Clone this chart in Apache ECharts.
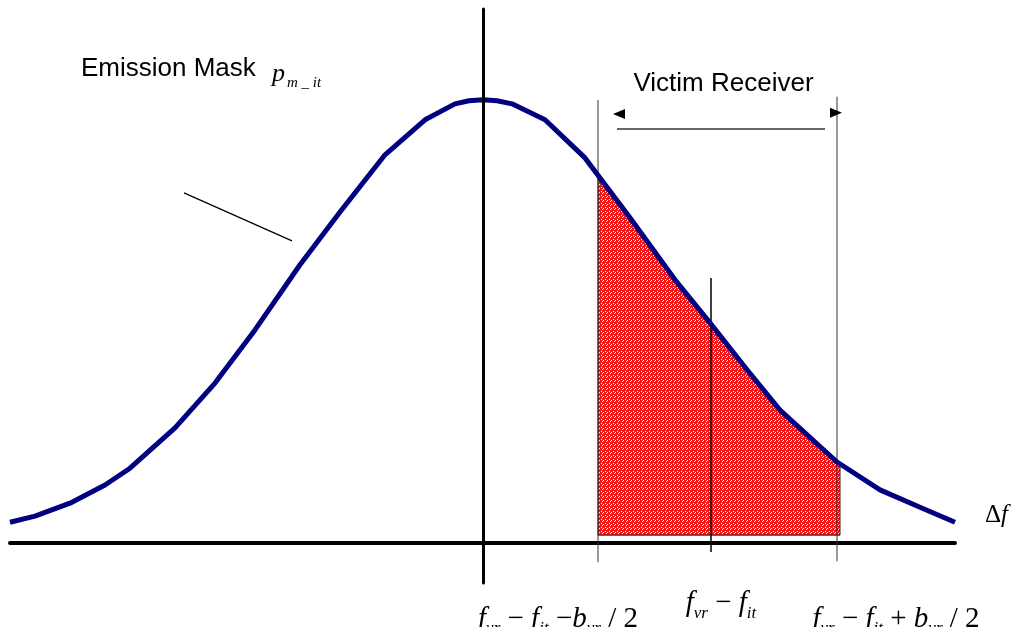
<!DOCTYPE html>
<html>
<head>
<meta charset="utf-8">
<title>Emission mask and victim receiver</title>
<script src="https://cdn.jsdelivr.net/npm/echarts@6/dist/echarts.min.js"></script>
<style>
  html, body { margin: 0; padding: 0; background: #fff; }
  #chart { width: 1012px; height: 627px; }
</style>
</head>
<body>
<div id="chart"></div>
<script>
// Interferer emission mask: relative level against frequency offset Δf
const maskOffsets = [-4.73, -4.48, -4.13, -3.78, -3.53, -3.08, -2.68, -2.28, -1.83, -1.43, -0.98, -0.58, -0.28, -0.14, 0,
                     0.14, 0.29, 0.62, 1.02, 1.47, 1.92, 2.27, 2.64, 2.97, 3.54, 3.97, 4.37, 4.72];
const maskLevels  = [0.047, 0.061, 0.090, 0.131, 0.169, 0.260, 0.361, 0.481, 0.628, 0.747, 0.876, 0.955, 0.991, 0.998, 1.0,
                     0.998, 0.991, 0.955, 0.869, 0.734, 0.594, 0.497, 0.391, 0.300, 0.183, 0.120, 0.081, 0.047];

// Victim receiver band: lower edge, centre and upper edge on the Δf axis
const rxLow = 1.15;
const rxCentre = 2.28;
const rxHigh = 3.54;

// Part of the mask falling inside the receiver band (shaded)
const overlapOffsets = [1.15, 1.47, 1.92, 2.27, 2.64, 2.97, 3.57];
const overlapLevels  = [0.822, 0.734, 0.594, 0.497, 0.391, 0.300, 0.176];
const overlapFloor = 0.018;

const serif = "'Liberation Serif', 'Times New Roman', serif";
const sans = "'Liberation Sans', Arial, sans-serif";

// red speckled tile for the shaded area
const tile = document.createElement('canvas');
tile.width = 4; tile.height = 4;
(function () {
  const g = tile.getContext('2d');
  g.fillStyle = '#f01818';
  g.fillRect(0, 0, 4, 4);
  g.fillStyle = '#ffffff';
  [[3, 0], [2, 1], [1, 3]].forEach(function (p) { g.fillRect(p[0], p[1], 1, 1); });
})();

function segment(points, color, width, z) {
  return {
    type: 'line', data: points, symbol: 'none', clip: false, silent: true, z: z || 3,
    lineStyle: { color: color, width: width }, animation: false
  };
}

const formulaRich = {
  v: { fontFamily: serif, fontStyle: 'italic', fontSize: 29, lineHeight: 29, verticalAlign: 'bottom', padding: [0, 0, 4, 0], color: '#000' },
  s: { fontFamily: serif, fontStyle: 'italic', fontSize: 17, lineHeight: 17, verticalAlign: 'bottom', color: '#000' },
  o: { fontFamily: serif, fontSize: 29, lineHeight: 29, verticalAlign: 'bottom', padding: [0, 0, 4, 0], color: '#000' }
};

const chart = echarts.init(document.getElementById('chart'), null, { renderer: 'canvas' });

chart.setOption({
  animation: false,
  backgroundColor: '#ffffff',
  grid: { left: 10, right: 57, top: 9, bottom: 44 },
  xAxis: {
    type: 'value', min: -4.73, max: 4.72,
    axisLine: { show: true, onZero: true, lineStyle: { color: '#000', width: 4 } },
    axisTick: { show: false }, axisLabel: { show: false }, splitLine: { show: false }
  },
  yAxis: {
    type: 'value', min: -0.09, max: 1.205, z: 10,
    axisLine: { show: true, onZero: true, lineStyle: { color: '#000', width: 3 } },
    axisTick: { show: false }, axisLabel: { show: false }, splitLine: { show: false }
  },
  series: [
    // shaded overlap between mask and receiver band
    {
      type: 'custom', coordinateSystem: 'cartesian2d', clip: false, silent: true, z: 2,
      data: [[rxLow, overlapFloor]],
      renderItem: function (params, api) {
        const pts = overlapOffsets.map(function (x, i) { return api.coord([x, overlapLevels[i]]); });
        pts.push(api.coord([overlapOffsets[overlapOffsets.length - 1], overlapFloor]));
        pts.push(api.coord([overlapOffsets[0], overlapFloor]));
        return {
          type: 'polygon',
          shape: { points: pts },
          style: { fill: { image: tile, repeat: 'repeat' }, stroke: '#222', lineWidth: 1 }
        };
      }
    },
    // band edges and centre frequency
    segment([[rxLow, 1.0], [rxLow, -0.043]], '#333', 1, 3),
    segment([[rxCentre, 0.598], [rxCentre, -0.020]], '#000', 1.5, 3),
    segment([[rxHigh, 1.007], [rxHigh, -0.041]], '#333', 1, 3),
    // receiver bandwidth arrow
    segment([[1.34, 0.9345], [3.42, 0.9345]], '#333', 1.5, 3),
    {
      type: 'scatter', clip: false, silent: true, z: 4, symbol: 'triangle',
      symbolSize: [10, 12],
      itemStyle: { color: '#000', opacity: 1 },
      data: [
        { value: [1.36, 0.968], symbolRotate: 90 },
        { value: [3.53, 0.971], symbolRotate: -90 }
      ]
    },
    // leader line for the mask label
    segment([[-2.99, 0.790], [-1.91, 0.682]], '#000', 1.3, 3),
    // emission mask
    {
      type: 'line', name: 'Emission Mask', symbol: 'none', clip: false, z: 5,
      data: maskOffsets.map(function (x, i) { return [x, maskLevels[i]]; }),
      lineStyle: { color: '#000080', width: 5, cap: 'butt', join: 'round' }
    },
    // text annotations
    {
      type: 'scatter', clip: false, silent: true, symbolSize: 0, z: 6,
      itemStyle: { opacity: 1 },
      data: [
        { value: [-4.02, 1.070], label: { show: true, position: 'inside', align: 'left', verticalAlign: 'middle',
            formatter: 'Emission Mask', fontFamily: sans, fontSize: 26, color: '#000' } },
        { value: [-2.11, 1.021], label: { show: true, position: 'inside', align: 'left', verticalAlign: 'bottom',
            formatter: '{p|p}{s|m _ it}',
            rich: {
              p: { fontFamily: serif, fontStyle: 'italic', fontSize: 26, lineHeight: 26, verticalAlign: 'bottom', padding: [0, 2, 3, 0], color: '#000' },
              s: { fontFamily: serif, fontStyle: 'italic', fontSize: 15, lineHeight: 15, verticalAlign: 'bottom', color: '#000' }
            } } },
        { value: [2.405, 1.036], label: { show: true, position: 'inside', align: 'center', verticalAlign: 'middle',
            formatter: 'Victim Receiver', fontFamily: sans, fontSize: 26, color: '#000' } },
        { value: [5.02, 0.063], label: { show: true, position: 'inside', align: 'left', verticalAlign: 'middle',
            formatter: '{o|Δ}{v|f}',
            rich: {
              o: { fontFamily: serif, fontSize: 25, color: '#000' },
              v: { fontFamily: serif, fontStyle: 'italic', fontSize: 25, color: '#000' }
            } } },
        { value: [0.75, -0.213], label: { show: true, position: 'inside', align: 'center', verticalAlign: 'bottom',
            formatter: '{v|f}{s|vr}{o| − }{v|f}{s|it}{o| −}{v|b}{s|vr}{o| / 2}', rich: formulaRich } },
        { value: [rxCentre + 0.10, -0.178], label: { show: true, position: 'inside', align: 'center', verticalAlign: 'bottom',
            formatter: '{v|f}{s|vr}{o| − }{v|f}{s|it}', rich: formulaRich } },
        { value: [4.13, -0.213], label: { show: true, position: 'inside', align: 'center', verticalAlign: 'bottom',
            formatter: '{v|f}{s|vr}{o| − }{v|f}{s|it}{o| + }{v|b}{s|vr}{o| / 2}', rich: formulaRich } }
      ]
    }
  ]
});
</script>
</body>
</html>
